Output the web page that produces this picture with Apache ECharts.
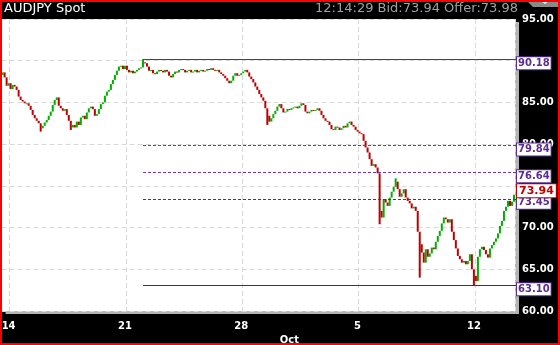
<!DOCTYPE html>
<html><head><meta charset="utf-8">
<script src="https://cdn.jsdelivr.net/npm/echarts@6/dist/echarts.min.js"></script>
<style>html,body{margin:0;padding:0;background:#000}#c{width:560px;height:345px}</style>
</head><body><div id="c"></div>
<script>
// closing prices, one per bar
const closes = [
88.6,88.0,87.0,87.3,86.6,87.1,86.9,86.5,85.7,85.3,85.1,84.9,84.9,84.6,
84.1,83.5,83.1,82.8,82.5,81.9,82.2,82.6,82.9,83.4,83.9,84.7,85.3,85.6,84.6,84.3,
84.0,84.2,83.5,82.8,82.0,82.3,82.0,82.7,82.3,83.2,83.4,83.0,83.8,84.3,84.5,84.2,
83.4,83.6,84.2,84.8,85.0,85.8,86.3,86.5,87.2,87.7,88.3,88.8,89.3,89.4,89.0,89.4,
88.9,88.6,88.8,88.5,88.7,88.9,89.1,89.2,89.8,89.7,
89.3,88.8,88.9,88.5,88.4,88.7,88.9,88.8,88.6,88.9,88.7,88.2,88.0,88.4,88.7,88.6,
88.9,89.0,88.9,88.6,88.8,88.9,88.6,88.7,88.9,88.6,88.8,88.9,88.7,88.8,89.0,88.9,
89.1,88.9,88.8,88.9,88.6,88.4,88.2,87.9,87.6,87.3,87.6,88.2,88.5,88.2,88.3,88.5,
88.7,88.9,88.6,88.1,87.8,87.4,86.9,86.5,86.0,85.6,85.2,84.3,83.4,82.7,83.1,83.6,
84.0,84.5,84.8,84.3,83.8,83.9,84.2,84.1,84.3,84.4,84.5,84.3,84.6,84.9,84.7,83.9,
83.7,83.9,84.1,84.0,84.1,84.3,84.0,83.5,83.1,82.8,82.7,82.3,81.8,81.7,82.1,82.0,
81.7,81.9,82.2,82.0,82.5,82.7,82.3,82.1,81.7,81.5,81.3,81.2,80.4,79.6,79.0,78.2,
77.4,77.6,77.2,76.5,
72.0,71.2,73.4,73.0,72.6,73.6,74.3,74.9,75.5,74.6,73.7,74.1,74.6,73.6,73.2,72.9,
72.3,72.5,72.0,69.5,68.0,67.0,65.8,67.4,66.5,66.9,67.6,67.4,68.3,69.0,69.6,70.5,
71.2,71.0,70.6,71.0,69.5,68.5,67.5,66.6,66.2,65.8,66.0,65.6,66.0,66.8,65.0,64.2,
63.6,66.5,67.4,67.7,67.3,66.8,66.4,67.5,67.9,68.3,68.7,69.3,70.2,70.8,72.0,72.5,
73.2,72.6,73.1,73.94
];
const firstOpen = 88.3;
// visible wick extremes [bar index, price]
const wickLows = [[19,81.5],[34,81.7],[132,82.3],[188,70.4],[208,64.0],[235,63.1]];
const wickHighs = [[70,90.18],[196,75.9]];

// x tick labels
const weekStarts = [4, 62, 120, 178, 236];
const weekLabels = ['14', '21', '28', '5', '12'];
const monthIndex = 144;
const monthLabel = 'Oct';

// y axis
const yMin = 60, yMax = 95, yStep = 5;
const hiddenYLabels = [75, 90];

// price levels
const levels = [90.18, 79.84, 76.64, 73.45, 63.10];
const levelStart = 70;
const lastPrice = 73.94;

// styles (not data)
const levelLineStyles = [
  { stroke: '#5b2e96', lineDash: null },
  { stroke: '#6a35b0', lineDash: [3, 2] },
  { stroke: '#6a35b0', lineDash: [3, 2] },
  { stroke: '#4a3468', lineDash: [3, 2] },
  { stroke: '#46287a', lineDash: null }
];

const categories = closes.map((_, i) => String(i));
const bars = closes.map((c, i) => {
  const o = i ? closes[i - 1] : firstOpen;
  return [i, o, c, Math.min(o, c), Math.max(o, c)];
});
wickLows.forEach(([i, v]) => { bars[i][3] = Math.min(bars[i][3], v); });
wickHighs.forEach(([i, v]) => { bars[i][4] = Math.max(bars[i][4], v); });
const levelData = levels.map((v, k) => [levelStart, v, k]);

const last = closes.length - 1;
const purple = '#5a2d8e';
const boxLabel = (color, v) => ({
  show: true, position: 'end', distance: 3, offset: [0, 4],
  formatter: v.toFixed(2),
  color: color, fontFamily: 'DejaVu Sans', fontWeight: 'bold', fontSize: 10,
  backgroundColor: '#fff', borderColor: color, borderWidth: 1,
  padding: [1, 1, 0, 1], lineHeight: 11
});
const noLine = { width: 0, color: 'rgba(0,0,0,0)' };
const markData = levels.map((v) => [
  { coord: [levelStart, v], lineStyle: noLine, label: boxLabel(purple, v) },
  { coord: [last, v] }
]);
markData.push([
  { coord: [levelStart, lastPrice], lineStyle: noLine,
    label: Object.assign(boxLabel('#c00000', lastPrice), { offset: [0, -4], fontSize: 11, padding: [1, 2, 0, 2], lineHeight: 12 }) },
  { coord: [last, lastPrice] }
]);

function renderBar(params, api) {
  const i = api.value(0), o = api.value(1), c = api.value(2);
  const top = api.coord([i, api.value(4)]);
  const bot = api.coord([i, api.value(3)]);
  const w = 2;
  return {
    type: 'rect',
    shape: { x: top[0] - w / 2, y: top[1], width: w, height: Math.max(1, bot[1] - top[1]) },
    style: { fill: c >= o ? '#00b000' : '#c00000' }
  };
}
function renderLevel(params, api) {
  const p = api.coord([api.value(0), api.value(1)]);
  const st = levelLineStyles[api.value(2)];
  const xEnd = params.coordSys.x + params.coordSys.width + 1;
  const y = Math.round(p[1]) + 0.5;
  return {
    type: 'line',
    shape: { x1: Math.round(p[0]), y1: y, x2: xEnd, y2: y },
    style: { stroke: st.stroke, lineWidth: 1, lineDash: st.lineDash }
  };
}

const isWeek = (i) => weekStarts.indexOf(i) >= 0;
const chart = echarts.init(document.getElementById('c'), null, { renderer: 'canvas' });
chart.setOption({
  backgroundColor: '#000',
  animation: false,
  grid: {
    left: 1.6, top: 19, width: 513.4, height: 292,
    containLabel: false, outerBoundsMode: 'none',
    show: true, backgroundColor: '#fff', borderWidth: 0,
    shadowColor: '#b4b4b4', shadowOffsetX: 4, shadowOffsetY: 3, shadowBlur: 0
  },
  xAxis: {
    type: 'category', data: categories, boundaryGap: true,
    axisLine: { show: false }, axisTick: { show: false },
    splitLine: { show: true, interval: (i) => isWeek(i), lineStyle: { color: '#d9d9d9', type: [5, 3] } },
    axisLabel: {
      interval: (i) => isWeek(i) || i === monthIndex,
      formatter: (v, i) => i === monthIndex ? '\n' + monthLabel : weekLabels[weekStarts.indexOf(i)],
      color: '#fff', fontFamily: 'DejaVu Sans', fontWeight: 'bold', fontSize: 10,
      lineHeight: 14, margin: 8, padding: [0, 4, 0, 0]
    }
  },
  yAxis: {
    type: 'value', position: 'right', min: yMin, max: yMax, interval: yStep,
    axisLine: { show: false }, axisTick: { show: false },
    splitLine: { show: true, lineStyle: { color: '#d9d9d9', type: [5, 3] } },
    axisLabel: {
      margin: 7, color: '#fff', fontFamily: 'DejaVu Sans', fontWeight: 'bold', fontSize: 10,
      formatter: (v) => hiddenYLabels.indexOf(v) >= 0 ? '' : v.toFixed(2)
    }
  },
  series: [
    {
      type: 'custom', data: bars, renderItem: renderBar,
      encode: { x: 0, y: [1, 2, 3, 4] }, clip: true
    },
    {
      type: 'custom', data: levelData, renderItem: renderLevel,
      encode: { x: 0, y: 1 }, clip: false, z: 3,
      markLine: { symbol: ['none', 'none'], silent: true, animation: false, data: markData }
    }
  ],
  graphic: [
    { type: 'text', left: 4, top: 2, z: 10, style: { text: 'AUDJPY Spot', fill: '#fff', font: '13px "DejaVu Sans"' } },
    { type: 'text', right: 42, top: 2, z: 10, style: { text: '12:14:29 Bid:73.94 Offer:73.98', fill: '#a0a0a0', font: '13px "DejaVu Sans"' } },
    { type: 'polygon', z: 10, shape: { points: [[527, 1], [558, 1], [558, 7], [533, 7]] }, style: { fill: '#8a8a8a' } },
    { type: 'polygon', z: 11, shape: { points: [[541, 1], [549, 1], [545, 4]] }, style: { fill: '#fff' } },
    { type: 'rect', z: 20, shape: { x: 1, y: 1, width: 558, height: 343 }, style: { fill: null, stroke: '#ff0000', lineWidth: 2 } }
  ]
});
</script></body></html>
